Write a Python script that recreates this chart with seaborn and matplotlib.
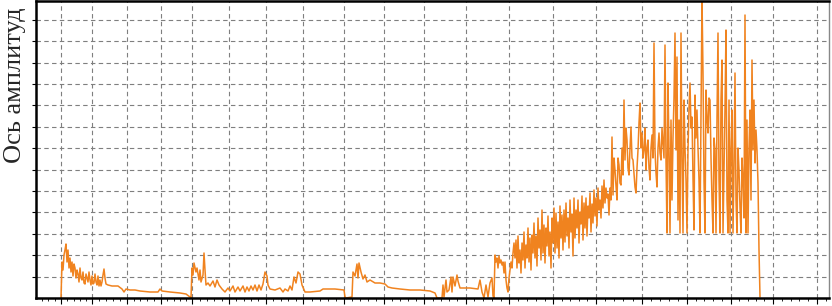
import matplotlib
matplotlib.use("Agg")
import matplotlib.pyplot as plt
import seaborn as sns
import pandas as pd

# -----------------------------------
# DATA (sample index, amplitude in counts)
# -----------------------------------

# burst 1
seg_a_x = list(range(25, 71)) + [72, 76, 82, 86, 88, 90, 94, 99, 104, 114, 122, 124,
                                  126, 134, 144, 150, 154]
seg_a_y = [0, 36, 28, 43, 48, 54, 36, 48, 30, 40,
           26, 36, 22, 34, 30, 20, 28, 24, 16, 30,
           20, 18, 26, 15, 14, 24, 20, 16, 26, 18,
           13, 22, 14, 15, 24, 16, 13, 22, 12, 18,
           12, 16, 23, 29, 20, 14,
           13, 12, 12, 9, 6, 9, 8, 8, 7, 6, 6, 9, 7, 6, 5, 4, 1]

# burst 2
seg_b_x = [155, 156, 157, 158, 160, 161, 163, 164, 165, 167, 168, 169, 170, 172, 174,
           177, 179, 181, 183, 186, 189, 192, 194, 197, 199, 202, 204, 207, 209, 211,
           213, 215, 217, 219, 221, 223, 225, 227, 229, 231, 232, 234, 239, 244, 247,
           249, 252, 254, 256, 258, 260, 262, 264, 266, 269, 274, 284, 287, 299, 308, 309]
seg_b_y = [0, 30, 23, 35, 26, 30, 18, 28, 16, 23, 45, 28, 13, 15, 12, 17, 11, 18, 13,
           9, 6, 10, 7, 12, 6, 11, 7, 12, 6, 11, 7, 12, 8, 13, 7, 13, 8, 14, 26, 22,
           13, 9, 8, 10, 6, 9, 7, 12, 8, 21, 15, 26, 24, 13, 6, 6, 7, 9, 9, 8, 1]

# burst 3
seg_c_x = [310, 316, 317, 319, 321, 322, 323, 325, 327, 329, 331, 334, 339, 344, 349,
           352, 356, 364, 374, 384, 394, 399, 401]
seg_c_y = [0, 1, 26, 22, 34, 20, 35, 26, 19, 23, 16, 18, 15, 15, 14, 11, 10, 9, 8, 8,
           7, 5, 0]

# low spiky part
seg_d_x = [406, 407, 408, 410, 411, 413, 415, 416, 417, 419, 421, 422, 424, 434, 442,
           444, 446, 448, 450, 452, 454, 456, 457, 458]
seg_d_y = [0, 13, 1, 18, 6, 8, 21, 6, 21, 12, 23, 17, 10, 10, 9, 18, 6, 0, 13, 1, 15,
           20, 2, 0]

# rising band
seg_e_x = list(range(459, 573))
seg_e_y = [43, 36, 40, 30, 42, 35, 38, 33, 36, 25,
           36, 18, 10, 6, 20, 28, 36, 30, 45, 55,
           40, 58, 30, 62, 35, 48, 25, 55, 38, 66,
           30, 53, 40, 70, 36, 60, 28, 63, 45, 75,
           40, 62, 32, 80, 50, 68, 38, 88, 45, 73,
           35, 70, 52, 82, 42, 66, 30, 80, 55, 90,
           45, 85, 50, 76, 40, 92, 60, 83, 48, 88,
           56, 95, 62, 80, 50, 98, 66, 84, 42, 100,
           60, 88, 70, 98, 55, 86, 74, 102, 58, 95,
           70, 100, 62, 92, 80, 105, 66, 94, 75, 108,
           82, 100, 72, 110, 88, 98, 80, 112, 90, 118,
           95, 110, 100, 104]

# strong part with clipping floor
seg_f_x = list(range(573, 725))
seg_f_y = [83, 110, 98, 161, 103, 140, 128, 112, 98, 140,
           133, 115, 113, 150, 123, 198, 138, 170, 158, 130,
           123, 150, 171, 140, 138, 125, 111, 105, 130, 148,
           175, 195, 150, 165, 140, 148, 170, 128, 150, 158,
           130, 118, 150, 163, 140, 255, 148, 125, 111, 150,
           165, 145, 138, 170, 155, 140, 253, 138, 65, 215,
           148, 65, 178, 98, 160, 200, 265, 148, 241, 78,
           178, 65, 265, 138, 65, 198, 150, 118, 65, 148,
           190, 215, 170, 181, 120, 68, 203, 160, 188, 150,
           118, 65, 180, 300, 225, 118, 65, 208, 180, 165,
           200, 198, 140, 98, 65, 160, 148, 65, 180, 265,
           118, 65, 198, 238, 65, 128, 190, 268, 98, 65,
           198, 65, 150, 188, 65, 130, 225, 98, 65, 150,
           128, 90, 65, 140, 118, 80, 283, 65, 178, 65,
           150, 188, 98, 238, 148, 198, 135, 168, 148, 115,
           48, 1]

# Vertical grid positions (sample index)
x_grid = [25, 56.3, 90.7, 125, 156.3, 193, 229.7, 267.3, 308.3, 348.3, 388.3, 429.7,
          473.3, 517.3, 560, 605.7, 650.7, 695, 736.7, 781.3]
y_step = 21.4

xs = seg_a_x + seg_b_x + seg_c_x + seg_d_x + seg_e_x + seg_f_x
ys = seg_a_y + seg_b_y + seg_c_y + seg_d_y + seg_e_y + seg_f_y
df = pd.DataFrame({"t": xs, "amp": ys})

# -----------------------------------
# PLOT
# -----------------------------------

sns.set_style("ticks")
plt.rcParams["font.family"] = ["Liberation Serif", "DejaVu Serif"]

fig = plt.figure(figsize=(8.32, 3.06), dpi=100)
ax = fig.add_axes([36 / 832, 8 / 306, 793 / 832, 297 / 306])

sns.lineplot(data=df, x="t", y="amp", estimator=None, sort=False,
             color="#f0831f", linewidth=1.1, ax=ax)

ax.set_xlim(0, 793)
ax.set_ylim(0, 297)

# major / minor ticks
minor = []
steps = [x_grid[i + 1] - x_grid[i] for i in range(len(x_grid) - 1)]
for i, st in enumerate(steps):
    for k in range(1, 5):
        minor.append(x_grid[i] + st * k / 5)
for k in range(1, 5):
    minor.append(x_grid[0] - steps[0] * k / 5)
    minor.append(x_grid[-1] + steps[-1] * k / 5)
minor = [m for m in minor if 0 <= m <= 793]

ax.set_xticks(x_grid)
ax.set_xticks(minor, minor=True)
ax.set_yticks([y_step * i for i in range(1, 14)])
ax.set_xticklabels([])
ax.set_yticklabels([])

ax.grid(True, which="major", color="#7f7f7f", linestyle=(0, (4, 3)), linewidth=0.8)
ax.tick_params(axis="x", which="major", length=4, width=0.8, color="black", direction="out")
ax.tick_params(axis="x", which="minor", length=2.5, width=0.6, color="black", direction="out")
ax.tick_params(axis="y", which="major", length=3, width=0.8, color="black", direction="out")

for side in ["left", "bottom", "top"]:
    ax.spines[side].set_linewidth(1.8)
    ax.spines[side].set_color("black")
ax.spines["right"].set_linewidth(1.0)
ax.spines["right"].set_color("#888888")

ax.set_xlabel("")
ax.set_ylabel("Ось амплитуд", fontsize=19)
ax.yaxis.set_label_coords(-0.012, 0.717)

fig.savefig("out.png", dpi=100)
